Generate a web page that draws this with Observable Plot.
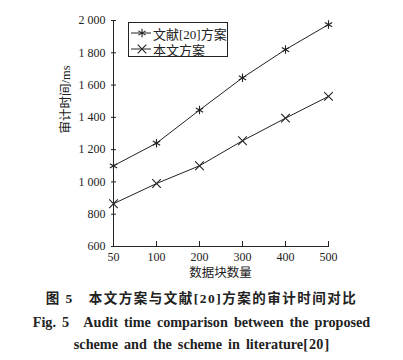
<!DOCTYPE html>
<html><head><meta charset="utf-8">
<script src="https://cdn.jsdelivr.net/npm/d3@7"></script>
<script src="https://cdn.jsdelivr.net/npm/@observablehq/plot@0.6"></script>
<style>
body{margin:0;background:#fff;}
#wrap{position:relative;width:403px;height:360px;overflow:hidden;background:#fff;}
#legend{position:absolute;left:128px;top:22px;width:100px;height:35px;border:1px solid #222;box-sizing:border-box;background:#fff;font-family:'Liberation Serif','Noto Sans CJK SC',serif;font-size:13px;color:#222;}
#legend .row{position:absolute;left:0;height:16px;display:flex;align-items:center;white-space:nowrap;}
#legend svg{display:block;}
#caption{position:absolute;left:0;top:288px;width:403px;text-align:center;color:#222;font-family:'Liberation Serif','Noto Sans CJK SC',serif;font-weight:bold;}
#caption .c1{font-size:13.5px;line-height:22.5px;letter-spacing:1.5px;}
#caption .c2{font-size:14.2px;line-height:22.5px;word-spacing:2.5px;white-space:nowrap;}
</style></head><body>
<div id="wrap"><div id="chart"></div><div id="legend"></div>
<div id="caption">
<div class="c1">图 5　本文方案与文献[20]方案的审计时间对比</div>
<div class="c2">Fig. 5　Audit time comparison between the proposed</div>
<div class="c2">scheme and the scheme in literature[&#8202;20&#8202;]</div>
</div></div>
<script>
const blocks = [50, 100, 200, 300, 400, 500];
const lit20 = [1100, 1240, 1445, 1645, 1820, 1975];
const ours = [865, 990, 1100, 1255, 1395, 1530];
const yTicks = [600, 800, 1000, 1200, 1400, 1600, 1800, 2000];
const seriesNames = ["文献[20]方案", "本文方案"];
const symbolNames = ["asterisk", "times"];

const data = [];
blocks.forEach((b, i) => data.push({x: b, y: lit20[i], s: seriesNames[0]}));
blocks.forEach((b, i) => data.push({x: b, y: ours[i], s: seriesNames[1]}));

const fmt = d => d >= 1000 ? String(d).replace(/(\d)(\d{3})$/, "$1 $2") : String(d);
const ink = "#222";

const chart = Plot.plot({
  width: 403, height: 285,
  marginLeft: 111, marginRight: 74, marginTop: 20, marginBottom: 39,
  style: {fontFamily: "'Liberation Serif','Noto Sans CJK SC',serif", fontSize: "12px", color: ink, background: "#fff"},
  x: {type: "point", domain: blocks, padding: 0, label: null},
  y: {domain: [600, 2000], label: null},
  symbol: {domain: seriesNames, range: symbolNames},
  marks: [
    Plot.ruleX([blocks[0]], {stroke: ink}),
    Plot.ruleY([600], {stroke: ink}),
    Plot.axisY(yTicks, {tickSize: 0, tickPadding: 6, tickFormat: fmt, label: null, fontSize: 12}),
    Plot.axisY(yTicks.slice(1), {tickSize: 5, dx: 5, tickFormat: () => "", label: null, stroke: ink}),
    Plot.axisX(blocks, {tickSize: 0, tickPadding: 6, label: null, fontSize: 12}),
    Plot.axisX(blocks.slice(1), {tickSize: 5, dy: -5, tickFormat: () => "", label: null, stroke: ink}),
    Plot.text(["审计时间/ms"], {frameAnchor: "left", dx: -46, rotate: -90, fontSize: 12.5, fill: ink}),
    Plot.text(["数据块数量"], {frameAnchor: "bottom", dy: 30, fontSize: 12.5, fill: ink}),
    Plot.line(data, {x: "x", y: "y", z: "s", stroke: ink, strokeWidth: 1}),
    Plot.dot(data, {x: "x", y: "y", symbol: "s", r: 4, stroke: ink, strokeWidth: 1.1})
  ]
});
document.getElementById("chart").appendChild(chart);

// legend
const leg = document.getElementById("legend");
const d3sym = {asterisk: d3.symbolAsterisk, times: d3.symbolTimes};
seriesNames.forEach((name, i) => {
  const row = document.createElement("div");
  row.className = "row";
  row.style.top = (2 + i * 16) + "px";
  const svg = d3.create("svg").attr("width", 24).attr("height", 16);
  svg.append("line").attr("x1", 2).attr("x2", 22).attr("y1", 8).attr("y2", 8).attr("stroke", ink);
  svg.append("path").attr("d", d3.symbol(d3sym[symbolNames[i]], Math.PI * 4 * 4)())
    .attr("transform", "translate(13,8)").attr("fill", "none").attr("stroke", ink).attr("stroke-width", 1.1);
  row.appendChild(svg.node());
  const t = document.createElement("span");
  t.textContent = name;
  row.appendChild(t);
  leg.appendChild(row);
});
</script>
</body></html>
